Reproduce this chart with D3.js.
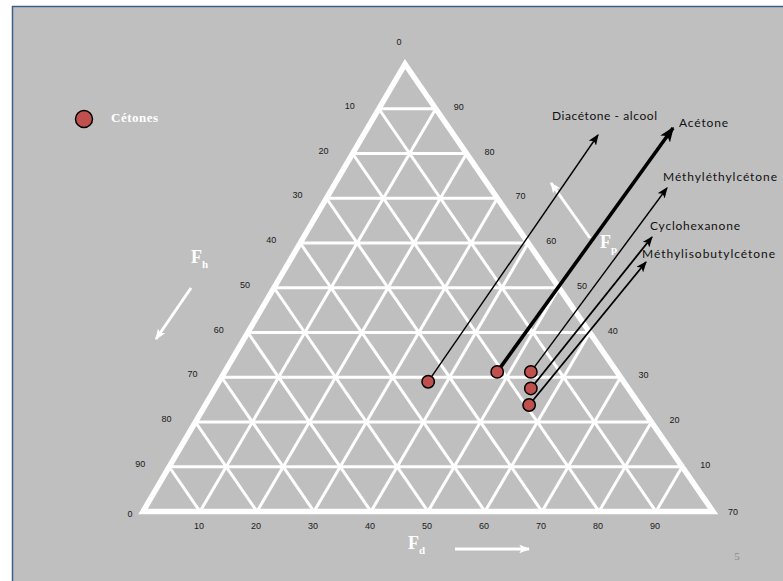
<!DOCTYPE html>
<html>
<head>
<meta charset="utf-8">
<script src="https://cdn.jsdelivr.net/npm/d3@7"></script>
<style>
  body { margin: 0; background: #ffffff; }
  svg { display: block; }
</style>
</head>
<body>
<div id="chart"></div>
<script>
// ketone solvents, Teas fractions (percent)
let ketones = ["Diacétone - alcool", "Acétone", "Méthyléthylcétone", "Cyclohexanone", "Méthylisobutylcétone"];
let fdValues = [36.7, 47.8, 53.7, 55.4, 56.8];
let fpValues = [29.0, 31.2, 31.2, 27.5, 23.8];
let fhValues = [34.3, 21.0, 15.1, 17.1, 19.4];

// tick labels along the three sides
let leftTicks = ["0", "10", "20", "30", "40", "50", "60", "70", "80", "90", "0"];
let rightTicks = ["90", "80", "70", "60", "50", "40", "30", "20", "10", "70"];
let bottomTicks = ["10", "20", "30", "40", "50", "60", "70", "80", "90"];

// set up the overall chart size
let svgWidth = 783;
let svgHeight = 581;

// triangle corners
let tri = { left: 143, right: 713, apexX: 405, top: 64, base: 511.5 };

// callout layout (arrow tip, label anchor, label width)
let callouts = [
  { tipX: 598, tipY: 135, textX: 552, textY: 120, len: 105, w: 1.4 },
  { tipX: 673, tipY: 128, textX: 679, textY: 127, len: 49, w: 3.6 },
  { tipX: 667, tipY: 188, textX: 663, textY: 181, len: 114, w: 1.4 },
  { tipX: 652, tipY: 237, textX: 650, textY: 230, len: 90, w: 1.8 },
  { tipX: 646, tipY: 262, textX: 642, textY: 258, len: 133, w: 1.8 }
];

let svg = d3.select("#chart")
  .append("svg")
  .attr("width", svgWidth)
  .attr("height", svgHeight);

// scales: Fd along the base, Fp upward, plus a skew toward the apex
let xScale = d3.scaleLinear().domain([0, 100]).range([tri.left, tri.right]);
let yScale = d3.scaleLinear().domain([0, 100]).range([tri.base, tri.top]);
let skew = d3.scaleLinear().domain([0, 100]).range([0, tri.apexX - tri.left]);

function pt(fd, fp) {
  return [xScale(fd) + skew(fp), yScale(fp)];
}

// slide frame
svg.append("rect")
  .attr("x", 12.5).attr("y", 6.5)
  .attr("width", svgWidth).attr("height", svgHeight)
  .attr("fill", "#bfbfbf")
  .attr("stroke", "#3b5e8c")
  .attr("stroke-width", 1.5);

let defs = svg.append("defs");
function marker(id, size, color) {
  defs.append("marker")
    .attr("id", id)
    .attr("viewBox", "0 0 10 8")
    .attr("refX", 9).attr("refY", 4)
    .attr("markerUnits", "userSpaceOnUse")
    .attr("markerWidth", size).attr("markerHeight", size * 0.8)
    .attr("orient", "auto")
    .append("path")
    .attr("d", "M0,0 L10,4 L0,8 L2.5,4 Z")
    .attr("fill", color);
}
marker("blackHead", 11, "#000");
marker("bigHead", 15, "#000");
marker("whiteHead", 11, "#fff");

// grid lines
let grid = svg.append("g")
  .attr("stroke", "#ffffff")
  .attr("stroke-width", 3)
  .attr("fill", "none");

d3.range(10, 100, 10).forEach(function(v) {
  let lines = [
    [pt(0, v), pt(100 - v, v)],        // constant Fp
    [pt(v, 0), pt(v, 100 - v)],        // constant Fd
    [pt(100 - v, 0), pt(0, 100 - v)]   // constant Fh
  ];
  lines.forEach(function(l) {
    grid.append("line")
      .attr("x1", l[0][0]).attr("y1", l[0][1])
      .attr("x2", l[1][0]).attr("y2", l[1][1]);
  });
});

// outer triangle
svg.append("path")
  .attr("d", d3.line()([pt(0, 0), pt(100, 0), pt(0, 100)]) + "Z")
  .attr("fill", "none")
  .attr("stroke", "#ffffff")
  .attr("stroke-width", 5.5)
  .attr("stroke-linejoin", "miter");

// tick labels
let tickFont = "'Liberation Sans', Arial, sans-serif";
let tickGroup = svg.append("g")
  .attr("font-family", tickFont)
  .attr("font-size", "9px")
  .attr("fill", "#1a1a1a")
  .attr("text-anchor", "middle")
  .attr("dominant-baseline", "central");

leftTicks.forEach(function(t, i) {
  let p = pt(0, 100 - i * 10);
  let dx = -29, dy = -3;
  if (i === 0) { dx = -6; dy = -22; }
  if (i === 10) { dx = -13; dy = 2; }
  tickGroup.append("text").attr("x", p[0] + dx).attr("y", p[1] + dy).text(t);
});

rightTicks.forEach(function(t, i) {
  let k = i + 1;
  let p = pt(k * 10, 100 - k * 10);
  let dx = 23, dy = -2;
  if (k === 10) { dx = 20; dy = 0; }
  tickGroup.append("text").attr("x", p[0] + dx).attr("y", p[1] + dy).text(t);
});

bottomTicks.forEach(function(t, i) {
  let p = pt((i + 1) * 10, 0);
  tickGroup.append("text").attr("x", p[0] - 1).attr("y", p[1] + 14).text(t);
});

// axis titles and white arrows
let titleFont = "'Liberation Serif', 'Times New Roman', serif";
function axisTitle(x, y, sub) {
  let t = svg.append("text")
    .attr("x", x).attr("y", y)
    .attr("font-family", titleFont)
    .attr("font-weight", "bold")
    .attr("font-size", "18px")
    .attr("fill", "#ffffff");
  t.append("tspan").text("F");
  t.append("tspan").attr("font-size", "11px").attr("dy", 5).text(sub);
}
axisTitle(191, 263, "h");
axisTitle(600, 248, "p");
axisTitle(408, 549, "d");

function whiteArrow(x1, y1, x2, y2) {
  svg.append("line")
    .attr("x1", x1).attr("y1", y1)
    .attr("x2", x2).attr("y2", y2)
    .attr("stroke", "#ffffff")
    .attr("stroke-width", 3)
    .attr("marker-end", "url(#whiteHead)");
}
whiteArrow(191, 288, 156, 339);
whiteArrow(590, 238, 551, 183);
whiteArrow(455, 549, 529, 549);

// callout arrows from each ketone to its name
let calloutGroup = svg.append("g");
ketones.forEach(function(name, i) {
  let p = pt(fdValues[i], fpValues[i]);
  let c = callouts[i];
  calloutGroup.append("line")
    .attr("x1", p[0]).attr("y1", p[1])
    .attr("x2", c.tipX).attr("y2", c.tipY)
    .attr("stroke", "#000")
    .attr("stroke-width", c.w)
    .attr("marker-end", i === 1 ? "url(#bigHead)" : "url(#blackHead)");
  calloutGroup.append("text")
    .attr("x", c.textX).attr("y", c.textY)
    .attr("font-family", "Lato, 'Open Sans', sans-serif")
    .attr("font-size", "12px")
    .attr("fill", "#111")
    .attr("textLength", c.len)
    .attr("lengthAdjust", "spacing")
    .text(name);
});

// ketone points
svg.append("g").selectAll("circle")
  .data(ketones)
  .enter()
  .append("circle")
  .attr("cx", (d, i) => pt(fdValues[i], fpValues[i])[0])
  .attr("cy", (d, i) => pt(fdValues[i], fpValues[i])[1])
  .attr("r", 6.2)
  .attr("fill", "#c0504d")
  .attr("stroke", "#000")
  .attr("stroke-width", 1.5);

// legend
svg.append("circle")
  .attr("cx", 84).attr("cy", 119)
  .attr("r", 8.5)
  .attr("fill", "#c0504d")
  .attr("stroke", "#000")
  .attr("stroke-width", 1.5);
svg.append("text")
  .attr("x", 111).attr("y", 121.5)
  .attr("font-family", titleFont)
  .attr("font-weight", "bold")
  .attr("font-size", "13px")
  .attr("fill", "#ffffff")
  .attr("textLength", 47)
  .attr("lengthAdjust", "spacing")
  .text("Cétones");

// slide number
svg.append("text")
  .attr("x", 737).attr("y", 560)
  .attr("font-family", titleFont)
  .attr("font-size", "11px")
  .attr("fill", "#8a8a8a")
  .attr("text-anchor", "middle")
  .text("5");
</script>
</body>
</html>
